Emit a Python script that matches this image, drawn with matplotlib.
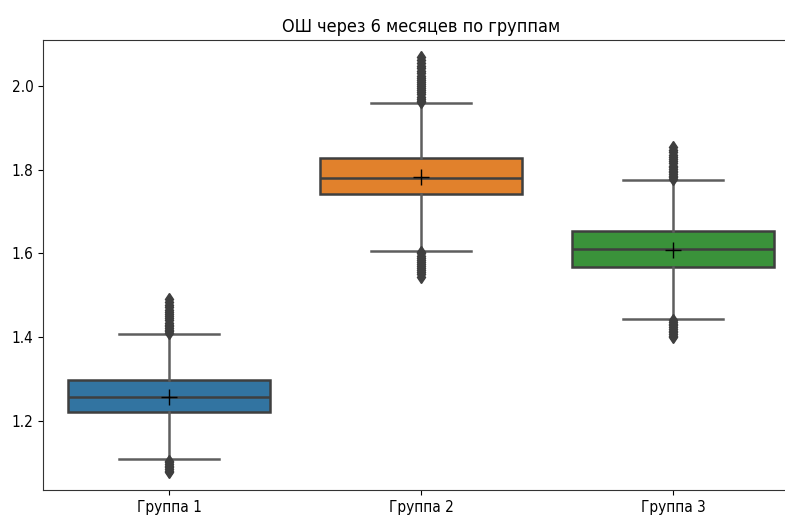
import matplotlib
matplotlib.use("Agg")
import matplotlib.pyplot as plt

groups = ['Группа 1', 'Группа 2', 'Группа 3']
q1 = [1.221, 1.742, 1.568]
med = [1.257, 1.780, 1.611]
q3 = [1.298, 1.828, 1.654]
whislo = [1.109, 1.606, 1.444]
whishi = [1.408, 1.959, 1.776]
means = [1.257, 1.782, 1.608]

# outliers (dense stacks above / below the whiskers)
fliers_1 = [1.077, 1.081, 1.085, 1.089, 1.093, 1.097, 1.101, 1.105,
            1.410, 1.414, 1.418, 1.422, 1.426, 1.430, 1.435, 1.440, 1.445,
            1.450, 1.455, 1.460, 1.466, 1.472, 1.478, 1.485, 1.492]
fliers_2 = [1.545, 1.550, 1.555, 1.560, 1.565, 1.570, 1.575, 1.580, 1.585,
            1.590, 1.595, 1.600, 1.604,
            1.961, 1.965, 1.970, 1.975, 1.980, 1.985, 1.990, 1.995, 2.000,
            2.005, 2.010, 2.015, 2.020, 2.025, 2.030, 2.036, 2.042, 2.048,
            2.055, 2.062, 2.070]
fliers_3 = [1.400, 1.404, 1.408, 1.412, 1.416, 1.420, 1.424, 1.428, 1.432,
            1.436, 1.440,
            1.778, 1.782, 1.786, 1.790, 1.794, 1.798, 1.802, 1.806, 1.810,
            1.815, 1.820, 1.825, 1.830, 1.836, 1.842, 1.848, 1.855]
fliers = [fliers_1, fliers_2, fliers_3]

colors = ['#3274A1', '#E1812C', '#3A923A']
line_c = '#3f3f3f'

stats = []
for i in range(len(groups)):
    stats.append(dict(label=groups[i], q1=q1[i], med=med[i], q3=q3[i],
                      whislo=whislo[i], whishi=whishi[i], mean=means[i],
                      fliers=fliers[i]))

fig = plt.figure(figsize=(7.85, 5.17), dpi=100)
ax = fig.add_axes([43 / 785, 27 / 517, 756 / 785, 450 / 517])

bp = ax.bxp(stats, positions=[0, 1, 2], widths=0.8, patch_artist=True,
            showmeans=True,
            boxprops=dict(edgecolor=line_c, linewidth=1.8),
            medianprops=dict(color=line_c, linewidth=1.8),
            whiskerprops=dict(color='#5e5e5e', linewidth=1.8),
            capprops=dict(color='#5e5e5e', linewidth=1.8),
            flierprops=dict(marker='d', markerfacecolor=line_c,
                            markeredgecolor=line_c, markersize=6.5),
            meanprops=dict(marker='+', markeredgecolor='black',
                           markersize=12, markeredgewidth=1.0))
for patch, c in zip(bp['boxes'], colors):
    patch.set_facecolor(c)

ax.set_xlim(-0.5, 2.5)
ax.set_ylim(1.035, 2.11)
ax.set_yticks([1.2, 1.4, 1.6, 1.8, 2.0])
ax.set_xticks([0, 1, 2])
ax.set_xticklabels(groups, fontsize=11, fontstretch='condensed')
for lab in ax.get_yticklabels():
    lab.set_fontsize(11)
    lab.set_fontstretch('condensed')
for s in ax.spines.values():
    s.set_color('#333333')
ax.spines['right'].set_visible(False)
ax.set_title('ОШ через 6 месяцев по группам', fontsize=13,
             fontstretch='condensed')

fig.savefig('out.png', dpi=100)
